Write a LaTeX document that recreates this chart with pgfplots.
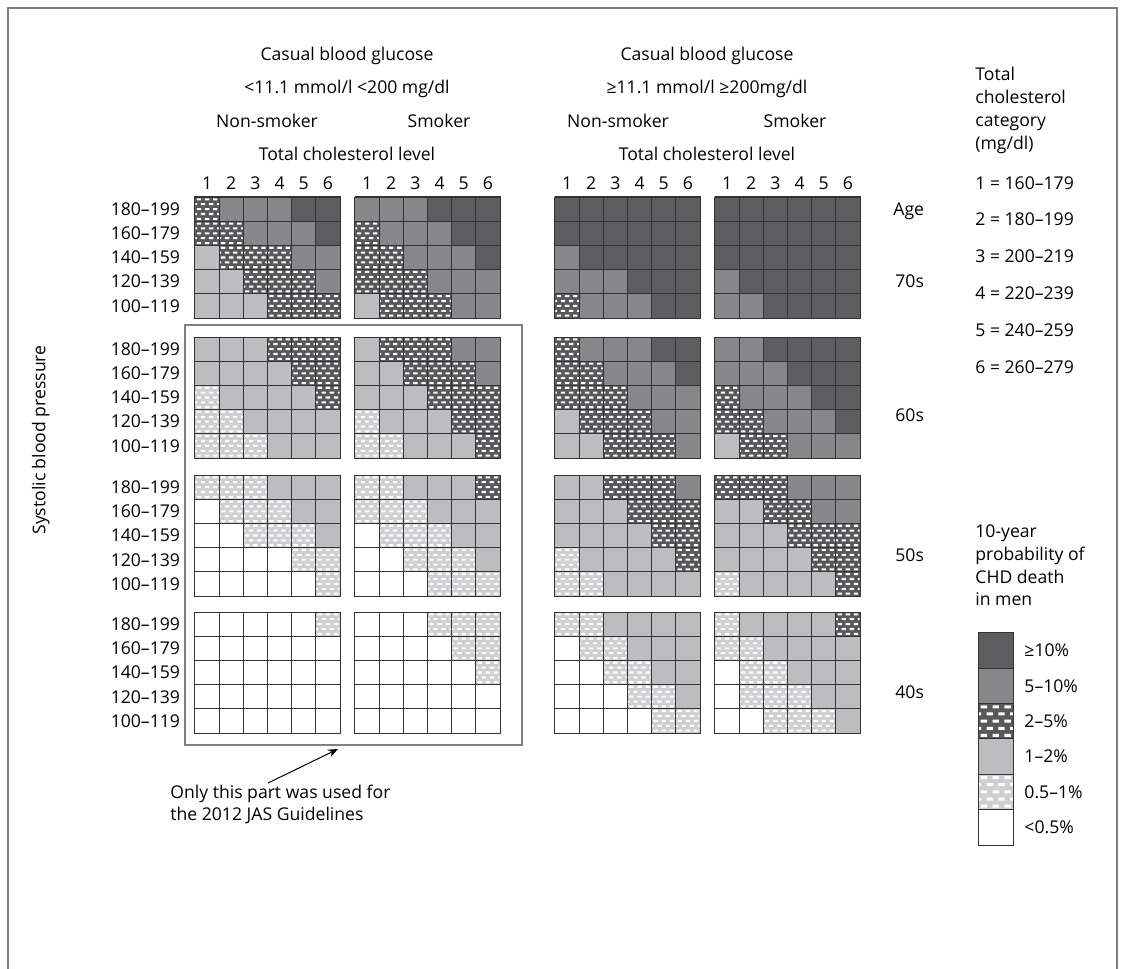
\documentclass[border=0pt]{standalone}
\usepackage{fontspec}
\setmainfont{Open Sans}
\usepackage{pgfplots}
\pgfplotsset{compat=1.18}
\usepackage{pgfplotstable}
\usetikzlibrary{arrows.meta}
\newcommand\fs{\fontsize{8.8}{10.5}\selectfont}
\definecolor{cA}{HTML}{5D5D60}
\definecolor{cB}{HTML}{87878A}
\definecolor{cC}{HTML}{58585B}
\definecolor{cD}{HTML}{BDBDBF}
\definecolor{cE}{HTML}{CFCFD1}
\definecolor{gridc}{HTML}{333333}
\definecolor{framec}{HTML}{808080}
\newcommand\cellpath{\pgfpathrectangle{\pgfqpoint{-\pgfplotmarksize}{-\pgfplotmarksize}}{\pgfqpoint{2\pgfplotmarksize}{2\pgfplotmarksize}}}
\newcommand\dr[3]{\pgfpathrectangle{\pgfqpoint{#1\pgfplotmarksize}{#2\pgfplotmarksize}}{\pgfqpoint{#3\pgfplotmarksize}{0.17\pgfplotmarksize}}}
\newcommand\rowA[1]{\dr{-0.85}{#1}{0.36}\dr{-0.18}{#1}{0.36}\dr{0.49}{#1}{0.36}}
\newcommand\rowB[1]{\dr{-0.97}{#1}{0.14}\dr{-0.52}{#1}{0.36}\dr{0.15}{#1}{0.36}\dr{0.82}{#1}{0.15}}
\newcommand\dashes{\begin{pgfscope}\pgfsetfillcolor{white}%
\rowA{0.72}\rowB{0.32}\rowA{-0.085}\rowB{-0.49}\rowA{-0.89}%
\pgfusepath{fill}\end{pgfscope}}
\pgfdeclareplotmark{c0}{\cellpath\pgfsetfillcolor{white}\pgfusepath{fill,stroke}}
\pgfdeclareplotmark{c1}{\cellpath\pgfsetfillcolor{cE}\pgfusepath{fill}\dashes\cellpath\pgfusepath{stroke}}
\pgfdeclareplotmark{c2}{\cellpath\pgfsetfillcolor{cD}\pgfusepath{fill,stroke}}
\pgfdeclareplotmark{c3}{\cellpath\pgfsetfillcolor{cC}\pgfusepath{fill}\dashes\cellpath\pgfusepath{stroke}}
\pgfdeclareplotmark{c4}{\cellpath\pgfsetfillcolor{cB}\pgfusepath{fill,stroke}}
\pgfdeclareplotmark{c5}{\cellpath\pgfsetfillcolor{cA}\pgfusepath{fill,stroke}}
\pgfplotsset{
  panel/.style={width=72.5pt,height=60.5pt,scale only axis,xmin=0.5,xmax=6.5,ymin=0.5,ymax=5.5,
    xtick=\empty,ytick=\empty,axis line style={draw=gridc,line width=0.5pt},clip=false,
    anchor=south west,major tick length=0pt,tick label style={font=\fs,text=black}},
  cellplot/.style={scatter,only marks,scatter src=explicit symbolic,
    scatter/classes={0={mark=c0},1={mark=c1},2={mark=c2},3={mark=c3},4={mark=c4},5={mark=c5}},
    mark size=6.05pt,draw=gridc,line width=0.5pt,mark options={draw=gridc,line width=0.5pt}},
  toprow/.style={xtick={1,...,6},xticklabels={1,2,3,4,5,6},xticklabel pos=top},
  leftcol/.style={ytick={1,...,5},yticklabels={100–119,120–139,140–159,160–179,180–199},
    yticklabel style={xshift=-4pt}}
}
\newcommand\panel[4]{\begin{axis}[panel,at={(#1,#2)},#4]
\addplot[cellplot] table[x=x,y=y,meta=c]{#3};
\end{axis}}
% 70s
\pgfplotstableread[row sep=\\]{x y c\\
1 5 3\\2 5 4\\3 5 4\\4 5 4\\5 5 5\\6 5 5\\
1 4 3\\2 4 3\\3 4 4\\4 4 4\\5 4 4\\6 4 5\\
1 3 2\\2 3 3\\3 3 3\\4 3 3\\5 3 4\\6 3 4\\
1 2 2\\2 2 2\\3 2 3\\4 2 3\\5 2 3\\6 2 4\\
1 1 2\\2 1 2\\3 1 2\\4 1 3\\5 1 3\\6 1 3\\}\tSa
\pgfplotstableread[row sep=\\]{x y c\\
1 5 4\\2 5 4\\3 5 4\\4 5 5\\5 5 5\\6 5 5\\
1 4 3\\2 4 4\\3 4 4\\4 4 4\\5 4 5\\6 4 5\\
1 3 3\\2 3 3\\3 3 4\\4 3 4\\5 3 4\\6 3 5\\
1 2 3\\2 2 3\\3 2 3\\4 2 4\\5 2 4\\6 2 4\\
1 1 2\\2 1 3\\3 1 3\\4 1 3\\5 1 4\\6 1 4\\}\tSb
\pgfplotstableread[row sep=\\]{x y c\\
1 5 5\\2 5 5\\3 5 5\\4 5 5\\5 5 5\\6 5 5\\
1 4 5\\2 4 5\\3 4 5\\4 4 5\\5 4 5\\6 4 5\\
1 3 4\\2 3 5\\3 3 5\\4 3 5\\5 3 5\\6 3 5\\
1 2 4\\2 2 4\\3 2 4\\4 2 5\\5 2 5\\6 2 5\\
1 1 3\\2 1 4\\3 1 4\\4 1 4\\5 1 5\\6 1 5\\}\tSc
\pgfplotstableread[row sep=\\]{x y c\\
1 5 5\\2 5 5\\3 5 5\\4 5 5\\5 5 5\\6 5 5\\
1 4 5\\2 4 5\\3 4 5\\4 4 5\\5 4 5\\6 4 5\\
1 3 5\\2 3 5\\3 3 5\\4 3 5\\5 3 5\\6 3 5\\
1 2 4\\2 2 5\\3 2 5\\4 2 5\\5 2 5\\6 2 5\\
1 1 4\\2 1 4\\3 1 5\\4 1 5\\5 1 5\\6 1 5\\}\tSd
% 60s
\pgfplotstableread[row sep=\\]{x y c\\
1 5 2\\2 5 2\\3 5 2\\4 5 3\\5 5 3\\6 5 3\\
1 4 2\\2 4 2\\3 4 2\\4 4 2\\5 4 3\\6 4 3\\
1 3 1\\2 3 2\\3 3 2\\4 3 2\\5 3 2\\6 3 3\\
1 2 1\\2 2 1\\3 2 2\\4 2 2\\5 2 2\\6 2 2\\
1 1 1\\2 1 1\\3 1 1\\4 1 2\\5 1 2\\6 1 2\\}\tXa
\pgfplotstableread[row sep=\\]{x y c\\
1 5 2\\2 5 3\\3 5 3\\4 5 3\\5 5 4\\6 5 4\\
1 4 2\\2 4 2\\3 4 3\\4 4 3\\5 4 3\\6 4 4\\
1 3 2\\2 3 2\\3 3 2\\4 3 3\\5 3 3\\6 3 3\\
1 2 1\\2 2 2\\3 2 2\\4 2 2\\5 2 3\\6 2 3\\
1 1 1\\2 1 1\\3 1 2\\4 1 2\\5 1 2\\6 1 3\\}\tXb
\pgfplotstableread[row sep=\\]{x y c\\
1 5 3\\2 5 4\\3 5 4\\4 5 4\\5 5 5\\6 5 5\\
1 4 3\\2 4 3\\3 4 4\\4 4 4\\5 4 4\\6 4 5\\
1 3 3\\2 3 3\\3 3 3\\4 3 4\\5 3 4\\6 3 4\\
1 2 2\\2 2 3\\3 2 3\\4 2 3\\5 2 4\\6 2 4\\
1 1 2\\2 1 2\\3 1 3\\4 1 3\\5 1 3\\6 1 4\\}\tXc
\pgfplotstableread[row sep=\\]{x y c\\
1 5 4\\2 5 4\\3 5 5\\4 5 5\\5 5 5\\6 5 5\\
1 4 4\\2 4 4\\3 4 4\\4 4 5\\5 4 5\\6 4 5\\
1 3 3\\2 3 4\\3 3 4\\4 3 4\\5 3 5\\6 3 5\\
1 2 3\\2 2 3\\3 2 4\\4 2 4\\5 2 4\\6 2 5\\
1 1 2\\2 1 3\\3 1 3\\4 1 4\\5 1 4\\6 1 4\\}\tXd
% 50s
\pgfplotstableread[row sep=\\]{x y c\\
1 5 1\\2 5 1\\3 5 1\\4 5 2\\5 5 2\\6 5 2\\
1 4 0\\2 4 1\\3 4 1\\4 4 1\\5 4 2\\6 4 2\\
1 3 0\\2 3 0\\3 3 1\\4 3 1\\5 3 1\\6 3 2\\
1 2 0\\2 2 0\\3 2 0\\4 2 0\\5 2 1\\6 2 1\\
1 1 0\\2 1 0\\3 1 0\\4 1 0\\5 1 0\\6 1 1\\}\tFa
\pgfplotstableread[row sep=\\]{x y c\\
1 5 1\\2 5 1\\3 5 2\\4 5 2\\5 5 2\\6 5 3\\
1 4 1\\2 4 1\\3 4 1\\4 4 2\\5 4 2\\6 4 2\\
1 3 0\\2 3 1\\3 3 1\\4 3 1\\5 3 2\\6 3 2\\
1 2 0\\2 2 0\\3 2 1\\4 2 1\\5 2 1\\6 2 2\\
1 1 0\\2 1 0\\3 1 0\\4 1 1\\5 1 1\\6 1 1\\}\tFb
\pgfplotstableread[row sep=\\]{x y c\\
1 5 2\\2 5 2\\3 5 3\\4 5 3\\5 5 3\\6 5 4\\
1 4 2\\2 4 2\\3 4 2\\4 4 3\\5 4 3\\6 4 3\\
1 3 2\\2 3 2\\3 3 2\\4 3 2\\5 3 3\\6 3 3\\
1 2 1\\2 2 2\\3 2 2\\4 2 2\\5 2 2\\6 2 3\\
1 1 1\\2 1 1\\3 1 2\\4 1 2\\5 1 2\\6 1 2\\}\tFc
\pgfplotstableread[row sep=\\]{x y c\\
1 5 3\\2 5 3\\3 5 3\\4 5 4\\5 5 4\\6 5 4\\
1 4 2\\2 4 2\\3 4 3\\4 4 3\\5 4 4\\6 4 4\\
1 3 2\\2 3 2\\3 3 2\\4 3 3\\5 3 3\\6 3 3\\
1 2 2\\2 2 2\\3 2 2\\4 2 2\\5 2 3\\6 2 3\\
1 1 1\\2 1 2\\3 1 2\\4 1 2\\5 1 2\\6 1 3\\}\tFd
% 40s
\pgfplotstableread[row sep=\\]{x y c\\
1 5 0\\2 5 0\\3 5 0\\4 5 0\\5 5 0\\6 5 1\\
1 4 0\\2 4 0\\3 4 0\\4 4 0\\5 4 0\\6 4 0\\
1 3 0\\2 3 0\\3 3 0\\4 3 0\\5 3 0\\6 3 0\\
1 2 0\\2 2 0\\3 2 0\\4 2 0\\5 2 0\\6 2 0\\
1 1 0\\2 1 0\\3 1 0\\4 1 0\\5 1 0\\6 1 0\\}\tRa
\pgfplotstableread[row sep=\\]{x y c\\
1 5 0\\2 5 0\\3 5 0\\4 5 1\\5 5 1\\6 5 1\\
1 4 0\\2 4 0\\3 4 0\\4 4 0\\5 4 1\\6 4 1\\
1 3 0\\2 3 0\\3 3 0\\4 3 0\\5 3 0\\6 3 1\\
1 2 0\\2 2 0\\3 2 0\\4 2 0\\5 2 0\\6 2 0\\
1 1 0\\2 1 0\\3 1 0\\4 1 0\\5 1 0\\6 1 0\\}\tRb
\pgfplotstableread[row sep=\\]{x y c\\
1 5 1\\2 5 1\\3 5 2\\4 5 2\\5 5 2\\6 5 2\\
1 4 0\\2 4 1\\3 4 1\\4 4 2\\5 4 2\\6 4 2\\
1 3 0\\2 3 0\\3 3 1\\4 3 1\\5 3 2\\6 3 2\\
1 2 0\\2 2 0\\3 2 0\\4 2 1\\5 2 1\\6 2 2\\
1 1 0\\2 1 0\\3 1 0\\4 1 0\\5 1 1\\6 1 1\\}\tRc
\pgfplotstableread[row sep=\\]{x y c\\
1 5 1\\2 5 2\\3 5 2\\4 5 2\\5 5 2\\6 5 3\\
1 4 1\\2 4 1\\3 4 2\\4 4 2\\5 4 2\\6 4 2\\
1 3 0\\2 3 1\\3 3 1\\4 3 2\\5 3 2\\6 3 2\\
1 2 0\\2 2 1\\3 2 1\\4 2 1\\5 2 2\\6 2 2\\
1 1 0\\2 1 0\\3 1 1\\4 1 1\\5 1 1\\6 1 2\\}\tRd
% legend
\pgfplotstableread[row sep=\\]{x y c\\
1 6 5\\1 5 4\\1 4 3\\1 3 2\\1 2 1\\1 1 0\\}\tLeg
\begin{document}
\begin{tikzpicture}
\path[use as bounding box] (0,0) rectangle (562.5pt,-484.5pt);
% 70s
\panel{97.5pt}{-159pt}{\tSa}{toprow,leftcol}
\panel{177.5pt}{-159pt}{\tSb}{toprow}
\panel{277.5pt}{-159pt}{\tSc}{toprow}
\panel{357.5pt}{-159pt}{\tSd}{toprow}
% 60s
\panel{97.5pt}{-229pt}{\tXa}{leftcol}
\panel{177.5pt}{-229pt}{\tXb}{}
\panel{277.5pt}{-229pt}{\tXc}{}
\panel{357.5pt}{-229pt}{\tXd}{}
% 50s
\panel{97.5pt}{-298pt}{\tFa}{leftcol}
\panel{177.5pt}{-298pt}{\tFb}{}
\panel{277.5pt}{-298pt}{\tFc}{}
\panel{357.5pt}{-298pt}{\tFd}{}
% 40s
\panel{97.5pt}{-366.5pt}{\tRa}{leftcol}
\panel{177.5pt}{-366.5pt}{\tRb}{}
\panel{277.5pt}{-366.5pt}{\tRc}{}
\panel{357.5pt}{-366.5pt}{\tRd}{}
% legend
\begin{axis}[panel,width=17.7pt,height=106.2pt,xmin=0.5,xmax=1.5,ymin=0.5,ymax=6.5,
  at={(489pt,-422.5pt)},ytick={1,...,6},
  yticklabels={<0.5\%,0.5–1\%,1–2\%,2–5\%,5–10\%,≥10\%},
  yticklabel pos=right,yticklabel style={anchor=west,xshift=2pt}]
\addplot[cellplot,mark size=8.85pt] table[x=x,y=y,meta=c]{\tLeg};
\end{axis}
\begin{scope}[x=0.5pt,y=-0.5pt,font=\fs]
\draw[framec,line width=0.6pt] (8,990) -- (8,8) -- (1117,8) -- (1117,990);
\draw[framec,line width=1pt] (185,325) rectangle (522,745);
\draw[-{Stealth[length=5pt,width=4pt]},line width=0.5pt] (268,783) -- (338,749);
\node[anchor=mid] at (347,55) {Casual blood glucose};
\node[anchor=mid] at (347,88) {<11.1 mmol/l <200 mg/dl};
\node[anchor=mid] at (267,122) {Non-smoker};
\node[anchor=mid] at (439,122) {Smoker};
\node[anchor=mid] at (347,155) {Total cholesterol level};
\node[anchor=mid] at (707,55) {Casual blood glucose};
\node[anchor=mid] at (707,88) {≥11.1 mmol/l ≥200mg/dl};
\node[anchor=mid] at (618,122) {Non-smoker};
\node[anchor=mid] at (795,122) {Smoker};
\node[anchor=mid] at (707,155) {Total cholesterol level};
\node[anchor=mid west,inner sep=0pt] at (893,210) {Age};
\node[anchor=mid west,inner sep=0pt] at (895,282) {70s};
\node[anchor=mid west,inner sep=0pt] at (895,416) {60s};
\node[anchor=mid west,inner sep=0pt] at (895,556) {50s};
\node[anchor=mid west,inner sep=0pt] at (895,693) {40s};
\node[rotate=90,anchor=mid] at (40,440) {Systolic blood pressure};
\foreach \t/\yy in {{Total}/75,{cholesterol}/98,{category}/121,{(mg/dl)}/144,
  {1 = 160–179}/184,{2 = 180–199}/220,{3 = 200–219}/257,{4 = 220–239}/294,{5 = 240–259}/331,{6 = 260–279}/368,
  {10-year}/532,{probability of}/555,{CHD death}/578,{in men}/600}
  \node[anchor=mid west,inner sep=0pt] at (975,\yy) {\t};
\node[anchor=mid west,inner sep=0pt] at (170,793) {Only this part was used for};
\node[anchor=mid west,inner sep=0pt] at (170,815) {the 2012 JAS Guidelines};
\end{scope}
\end{tikzpicture}
\end{document}
